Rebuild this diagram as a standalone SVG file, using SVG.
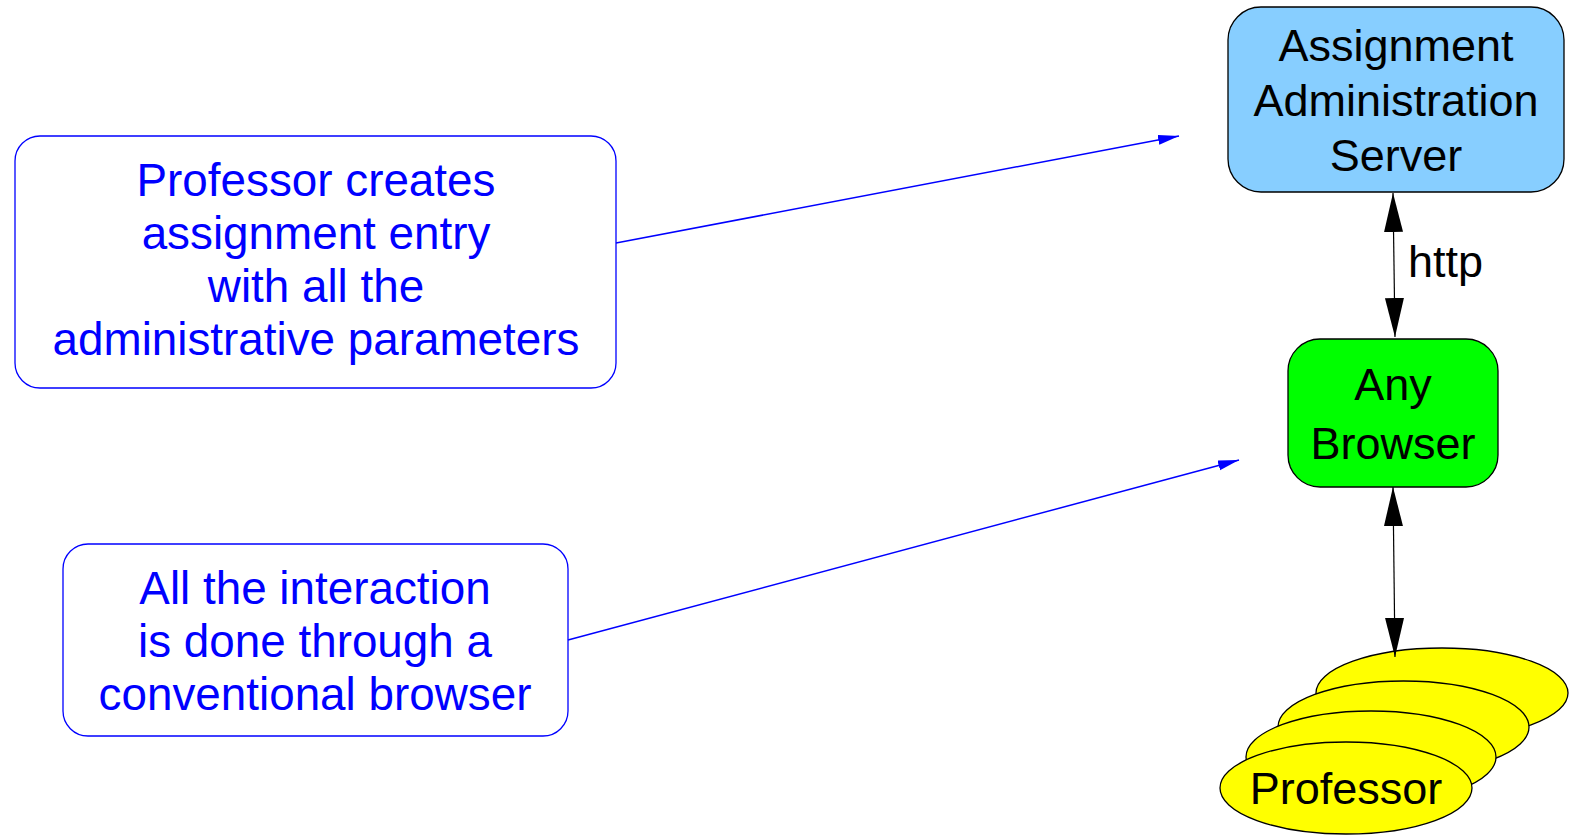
<svg xmlns="http://www.w3.org/2000/svg" width="1577" height="835" viewBox="0 0 1577 835">
<style>
text{font-family:"Liberation Sans",Arial,sans-serif;font-size:45px;text-anchor:middle}
.note rect{fill:#fff;stroke:#0000ff;stroke-width:1.3}
.note text{fill:#0000ff;font-size:45.8px}
.blk{fill:#000}
.node rect,.node ellipse{stroke:#000;stroke-width:1.3}
.conn-b{stroke:#0000ff;stroke-width:1.5;fill:none}
.conn-k{stroke:#000;stroke-width:1.2;fill:none}
</style>
<defs>
<marker id="ah" markerUnits="userSpaceOnUse" markerWidth="40" markerHeight="20" refX="39" refY="9.5" orient="auto-start-reverse" viewBox="0 0 40 20">
<path d="M0,0 L39,9.5 L0,19 z" fill="#000"/>
</marker>
<marker id="bh" markerUnits="userSpaceOnUse" markerWidth="22" markerHeight="11" refX="21" refY="5" orient="auto" viewBox="0 0 22 11">
<path d="M0,0 L21,5 L0,10 z" fill="#0000ff"/>
</marker>
</defs>
<g id="server" class="node">
<rect x="1228" y="7" width="336" height="185" rx="33" fill="#87ceff"/>
<text x="1396" y="61" class="blk">Assignment</text>
<text x="1396" y="116" class="blk">Administration</text>
<text x="1396" y="171" class="blk">Server</text>
</g>
<g id="browser" class="node">
<rect x="1288" y="339" width="210" height="148" rx="32" fill="#00ff00"/>
<text x="1393" y="400" class="blk">Any</text>
<text x="1393" y="459" class="blk">Browser</text>
</g>
<g id="professor" class="node">
<ellipse cx="1442" cy="693" rx="126" ry="45" fill="#ffff00"/>
<ellipse cx="1403.5" cy="727" rx="125.5" ry="46" fill="#ffff00"/>
<ellipse cx="1371" cy="757" rx="125" ry="46" fill="#ffff00"/>
<ellipse cx="1346" cy="788" rx="126" ry="46" fill="#ffff00"/>
<text x="1346" y="804" class="blk">Professor</text>
</g>
<g id="note1" class="note">
<rect x="15" y="136" width="601" height="252" rx="25"/>
<text x="316" y="196">Professor creates</text>
<text x="316" y="249">assignment entry</text>
<text x="316" y="302">with all the</text>
<text x="316" y="355">administrative parameters</text>
</g>
<g id="note2" class="note">
<rect x="63" y="544" width="505" height="192" rx="25"/>
<text x="315" y="604">All the interaction</text>
<text x="315" y="657">is done through a</text>
<text x="315" y="710">conventional browser</text>
</g>
<g id="connectors">
<line class="conn-k" x1="1393" y1="193" x2="1395" y2="337" marker-start="url(#ah)" marker-end="url(#ah)"/>
<text x="1408" y="277" class="blk" style="text-anchor:start">http</text>
<line class="conn-k" x1="1393" y1="487" x2="1395" y2="657" marker-start="url(#ah)" marker-end="url(#ah)"/>
<line class="conn-b" x1="616" y1="243" x2="1179" y2="136" marker-end="url(#bh)"/>
<line class="conn-b" x1="568" y1="640" x2="1239" y2="460" marker-end="url(#bh)"/>
</g>
</svg>
